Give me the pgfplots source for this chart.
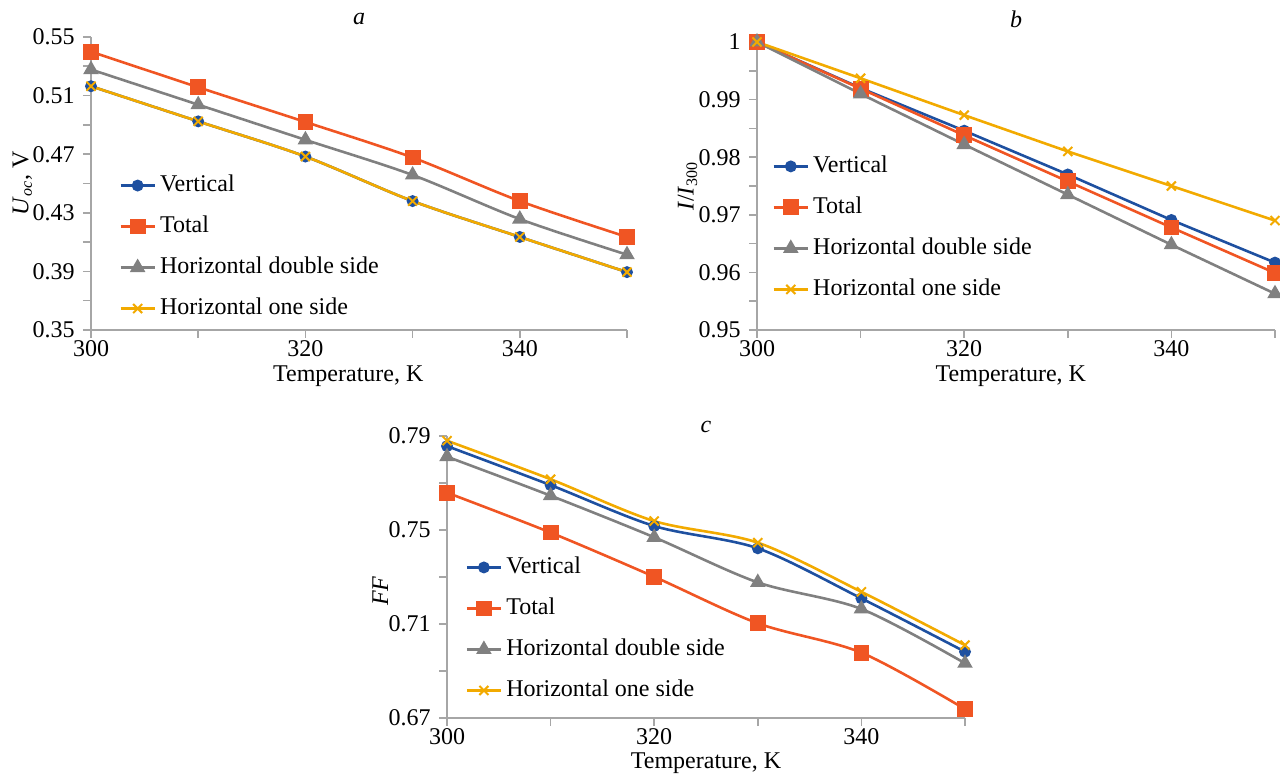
\documentclass[12pt,border=0pt]{standalone}
\usepackage{fontspec}
\setmainfont{Liberation Serif}
\usepackage{pgfplots}
\pgfplotsset{compat=1.18}

\definecolor{vblue}{HTML}{1E50A0}
\definecolor{tred}{HTML}{F05523}
\definecolor{hgray}{HTML}{808080}
\definecolor{hgold}{HTML}{F2AA00}
\definecolor{axgray}{HTML}{A6A6A6}

\pgfplotsset{
  panel/.style={
    scale only axis,
    axis x line=bottom, axis y line=left,
    axis line style={draw=axgray, line width=0.8pt, -},
    tick style={draw=axgray, line width=0.8pt},
    major tick length=4pt,
    tick align=outside,
    xmin=300, xmax=350,
    xtick={300,310,320,330,340,350},
    xticklabels={300,,320,,340,},
    xticklabel style={yshift=3pt},
    clip=false,
    /pgf/number format/assume math mode=true,
    every axis plot/.append style={line width=1.3pt},
    legend style={draw=none, fill=none, inner xsep=0pt, inner ysep=0pt,
      anchor=north west, row sep=4.5pt,
      nodes={inner sep=2pt, text height=9pt, text depth=3pt}},
    legend cell align=left,
    xlabel={Temperature, K},
    every axis title/.style={anchor=center},
  },
  sv/.style={color=vblue, mark=*, mark size=2.3pt, mark options={fill=vblue}},
  st/.style={color=tred, mark=square*, mark size=3.3pt, mark options={fill=tred}},
  sd/.style={color=hgray, mark=triangle*, mark size=3.2pt, mark options={fill=hgray}},
  so/.style={color=hgold, mark=x, mark size=3.2pt, mark options={line width=1pt}},
}

\begin{document}
\begin{tikzpicture}
\useasboundingbox (0,0) rectangle (640pt,-387pt);

% panel a
\begin{axis}[panel,
  at={(45.5pt,-165pt)}, anchor=south west,
  width=268pt, height=146.5pt,
  ymin=0.35, ymax=0.55,
  ytick={0.35,0.37,0.39,0.41,0.43,0.45,0.47,0.49,0.51,0.53,0.55},
  yticklabels={0.35,,0.39,,0.43,,0.47,,0.51,,0.55},
  ylabel={\textit{U}\textsubscript{\textit{oc}}, V},
  ylabel style={at={(axis description cs:-0.128,0.5)}, anchor=center},
  xlabel style={at={(axis description cs:0.48,-0.158)}, anchor=center},
  title={\textit{a}},
  title style={at={(axis description cs:0.5,1.06)}},
  legend style={at={(axis description cs:0.052,0.549)}},
]
\addplot[sv, smooth] coordinates {(300,0.5164) (310,0.4924) (320,0.4684) (330,0.4380) (340,0.4135) (350,0.3895)};
\addlegendentry{Vertical}
\addplot[st, smooth] coordinates {(300,0.5400) (310,0.5157) (320,0.4920) (330,0.4677) (340,0.4380) (350,0.4135)};
\addlegendentry{Total}
\addplot[sd, smooth] coordinates {(300,0.5278) (310,0.5038) (320,0.4798) (330,0.4558) (340,0.4257) (350,0.4014)};
\addlegendentry{Horizontal double side}
\addplot[so, smooth] coordinates {(300,0.5164) (310,0.4924) (320,0.4684) (330,0.4380) (340,0.4135) (350,0.3895)};
\addlegendentry{Horizontal one side}
\end{axis}

% panel b
\begin{axis}[panel,
  at={(378.5pt,-165pt)}, anchor=south west,
  width=259pt, height=144pt,
  ymin=0.95, ymax=1.0,
  ytick={0.95,0.955,0.96,0.965,0.97,0.975,0.98,0.985,0.99,0.995,1.0},
  yticklabels={0.95,,0.96,,0.97,,0.98,,0.99,,1},
  ylabel={\textit{I}/\textit{I}\textsubscript{300}},
  ylabel style={at={(axis description cs:-0.134,0.5)}, anchor=center},
  xlabel style={at={(axis description cs:0.49,-0.16)}, anchor=center},
  title={\textit{b}},
  title style={at={(axis description cs:0.5,1.08)}},
  legend style={at={(axis description cs:0.029,0.625)}},
]
\addplot[sv] coordinates {(300,1.0) (310,0.9920) (320,0.9846) (330,0.9770) (340,0.9691) (350,0.9617)};
\addlegendentry{Vertical}
\addplot[st] coordinates {(300,1.0) (310,0.9919) (320,0.9838) (330,0.9758) (340,0.9678) (350,0.9599)};
\addlegendentry{Total}
\addplot[sd] coordinates {(300,1.0) (310,0.9910) (320,0.9822) (330,0.9735) (340,0.9648) (350,0.9563)};
\addlegendentry{Horizontal double side}
\addplot[so] coordinates {(300,1.0) (310,0.9937) (320,0.9873) (330,0.9810) (340,0.9750) (350,0.9690)};
\addlegendentry{Horizontal one side}
\end{axis}

% panel c
\begin{axis}[panel,
  at={(223.5pt,-359pt)}, anchor=south west,
  width=259pt, height=141pt,
  ymin=0.67, ymax=0.79,
  ytick={0.67,0.69,0.71,0.73,0.75,0.77,0.79},
  yticklabels={0.67,,0.71,,0.75,,0.79},
  ylabel={\textit{FF}},
  ylabel style={at={(axis description cs:-0.129,0.45)}, anchor=center},
  xlabel style={at={(axis description cs:0.5,-0.16)}, anchor=center},
  title={\textit{c}},
  title style={at={(axis description cs:0.5,1.032)}},
  legend style={at={(axis description cs:0.035,0.592)}},
]
\addplot[sv, smooth] coordinates {(300,0.7857) (310,0.7691) (320,0.7517) (330,0.7422) (340,0.7209) (350,0.6982)};
\addlegendentry{Vertical}
\addplot[st, smooth] coordinates {(300,0.7659) (310,0.7489) (320,0.7301) (330,0.7103) (340,0.6978) (350,0.6738)};
\addlegendentry{Total}
\addplot[sd, smooth] coordinates {(300,0.7812) (310,0.7646) (320,0.7469) (330,0.7277) (340,0.7164) (350,0.6933)};
\addlegendentry{Horizontal double side}
\addplot[so, smooth] coordinates {(300,0.7880) (310,0.7716) (320,0.7538) (330,0.7446) (340,0.7237) (350,0.7010)};
\addlegendentry{Horizontal one side}
\end{axis}
\end{tikzpicture}
\end{document}
